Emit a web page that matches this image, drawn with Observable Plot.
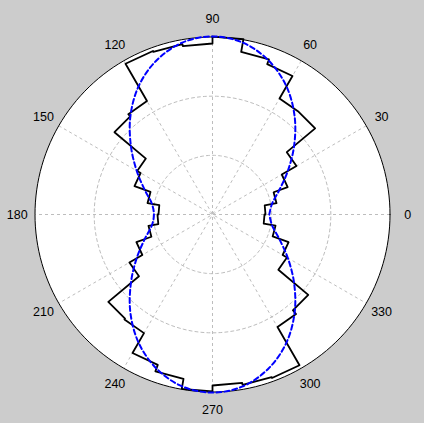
<!DOCTYPE html>
<html><head><meta charset="utf-8">
<script src="https://cdn.jsdelivr.net/npm/d3@7"></script>
<script src="https://cdn.jsdelivr.net/npm/@observablehq/plot@0.6"></script>
<style>html,body{margin:0;padding:0;background:#cccccc;overflow:hidden}#chart{width:424px;height:423px}</style>
</head><body><div id="chart"></div>
<script>
// ---- data (angles in degrees, radii in axis units) ----
const binStarts = [0,10,20,30,40,50,60,70,80,90,100,110,120,130,140,150,160,170,
                   180,190,200,210,220,230,240,250,260,270,280,290,300,310,320,330,340,350];
const binWidth = 10;
const binValues = [8.96,10.99,13.52,16.39,22.65,22.65,27.04,27.89,30.08,28.90,29.24,29.41,22.14,21.63,14.70,14.03,11.15,9.13,
                   9.30,10.99,13.69,16.22,22.99,23.15,27.04,28.22,29.91,28.90,29.24,29.41,21.97,21.13,14.53,13.69,10.82,8.79];
const fitAngles = [0,10,20,30,40,50,60,70,80,90,100,110,120,130,140,150,160,170,
                   180,190,200,210,220,230,240,250,260,270,280,290,300,310,320,330,340,350];
const fitValues = [9.6,10.2,12.0,14.7,18.0,21.6,25.0,27.7,29.5,30.1,29.5,27.7,25.0,21.6,18.0,14.8,12.2,10.4,
                   9.9,10.4,12.2,14.8,18.0,21.6,25.0,27.7,29.5,30.1,29.5,27.7,25.0,21.6,18.0,14.7,12.0,10.2];
const rMax = 30;
const ringValues = [10, 20];
const spokeAngles = [0, 30, 60, 90, 120, 150];
const labelAngles = [0,30,60,90,120,150,180,210,240,270,300,330];
const labelTexts = ["0","30","60","90","120","150","180","210","240","270","300","330"];

// ---- helpers ----
const rad = a => a * Math.PI / 180;
const pol = (a, r) => ({x: r * Math.cos(rad(a)), y: r * Math.sin(rad(a))});
const circle = r => d3.range(0, 361, 2).map(a => pol(a, r));

// stairs polar outline
const stairs = [];
binStarts.forEach((a, i) => {
  stairs.push(pol(a, binValues[i]));
  stairs.push(pol(a + binWidth, binValues[i]));
});
stairs.push(stairs[0]);

const fitPts = fitAngles.map((a, i) => pol(a, fitValues[i]));
fitPts.push(fitPts[0]);

const rings = ringValues.flatMap(r => circle(r).map(p => ({...p, ring: r})));
const spokes = spokeAngles.map(a => {
  const p = pol(a, rMax), q = pol(a + 180, rMax);
  return {x1: p.x, y1: p.y, x2: q.x, y2: q.y};
});
const labels = labelAngles.map((a, i) => ({...pol(a, rMax * 1.1), t: labelTexts[i]}));

const W = 424, H = 423, cx = 212, cy = 214, Rpx = 177.5;
const k = Rpx / rMax;

const chart = Plot.plot({
  width: W, height: H, margin: 0,
  x: {domain: [-cx / k, (W - cx) / k], range: [0, W], axis: null},
  y: {domain: [-(H - cy) / k, cy / k], range: [H, 0], axis: null},
  style: {background: "#cccccc", fontFamily: "'Liberation Sans', Arial, sans-serif"},
  marks: [
    Plot.line(circle(rMax), {x: "x", y: "y", fill: "white", stroke: "none"}),
    Plot.line(rings, {x: "x", y: "y", z: "ring", stroke: "#bdbdbd", strokeWidth: 1, strokeDasharray: "3,3"}),
    Plot.link(spokes, {x1: "x1", y1: "y1", x2: "x2", y2: "y2", stroke: "#bdbdbd", strokeWidth: 1, strokeDasharray: "3,3"}),
    Plot.line(circle(rMax), {x: "x", y: "y", stroke: "black", strokeWidth: 1}),
    Plot.line(stairs, {x: "x", y: "y", stroke: "black", strokeWidth: 1.8, curve: "linear"}),
    Plot.line(fitPts, {x: "x", y: "y", stroke: "#0000ff", strokeWidth: 2, strokeDasharray: "5,3", curve: "catmull-rom"}),
    Plot.text(labels, {x: "x", y: "y", text: "t", fontSize: 12.5, fill: "black"})
  ]
});
document.getElementById("chart").appendChild(chart);
</script>
</body></html>
